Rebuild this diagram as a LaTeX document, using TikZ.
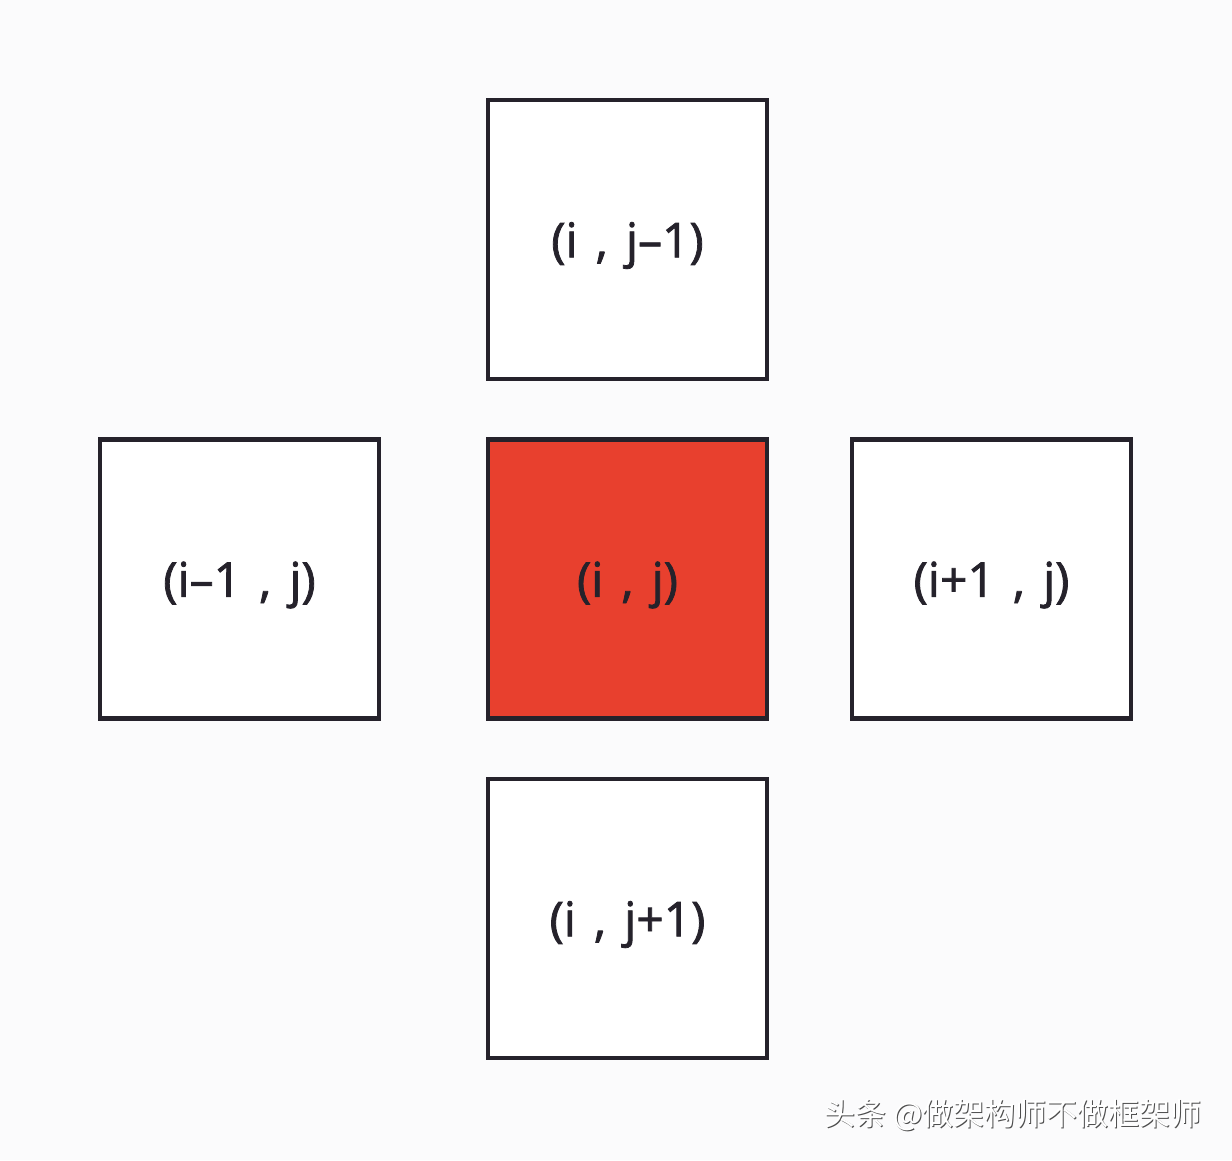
\documentclass[tikz,border=0pt]{standalone}
\usepackage{fontspec}
\setmainfont{Open Sans}
\newfontfamily\lbl{Open Sans}[FakeBold=1.6]
\newfontfamily\cjk{Noto Sans CJK SC}
\definecolor{bg}{HTML}{FBFBFC}
\definecolor{edge}{HTML}{25222B}
\definecolor{hot}{HTML}{E8402E}
\newcommand\gp{\hspace{0.38em}}
\begin{document}
\begin{tikzpicture}[x=1pt,y=-1pt,
  cell/.style={draw=edge,line width=4.5pt,minimum width=279pt,minimum height=279pt,inner sep=0pt,
    fill=white},
  hotcell/.style={cell,fill=hot},
  txt/.style={font=\lbl\fontsize{48}{52}\selectfont,text=edge,inner sep=0pt}]
\fill[bg] (0,0) rectangle (1232,1160);
\useasboundingbox (0,0) rectangle (1232,1160);
\node[cell] (top) at (627.5,239.5) {};
\node[cell] (left) at (239.5,579) {};
\node[hotcell] (mid) at (627.5,579) {};
\node[cell] (right) at (991.5,579) {};
\node[cell] (bot) at (627.5,918.5) {};
\node[txt] (ttop) at ([yshift=-6pt]top.center) {(i\gp,\gp j–1)};
\node[txt] (tleft) at ([yshift=-6pt]left.center) {(i–1\gp,\gp j)};
\node[txt] (tmid) at ([yshift=-6pt]mid.center) {(i\gp,\gp j)};
\node[txt] (tright) at ([yshift=-6pt]right.center) {(i+1\gp,\gp j)};
\node[txt] (tbot) at ([yshift=-6pt]bot.center) {(i\gp,\gp j+1)};
\node[font=\cjk\fontsize{31}{34}\selectfont,text=black!70,anchor=east] (wm) at (1206.5,1116.5) {头条 @做架构师不做框架师};
\node[font=\cjk\fontsize{31}{34}\selectfont,text=white,anchor=east] (wm2) at (1205,1115) {头条 @做架构师不做框架师};
\end{tikzpicture}
\end{document}
